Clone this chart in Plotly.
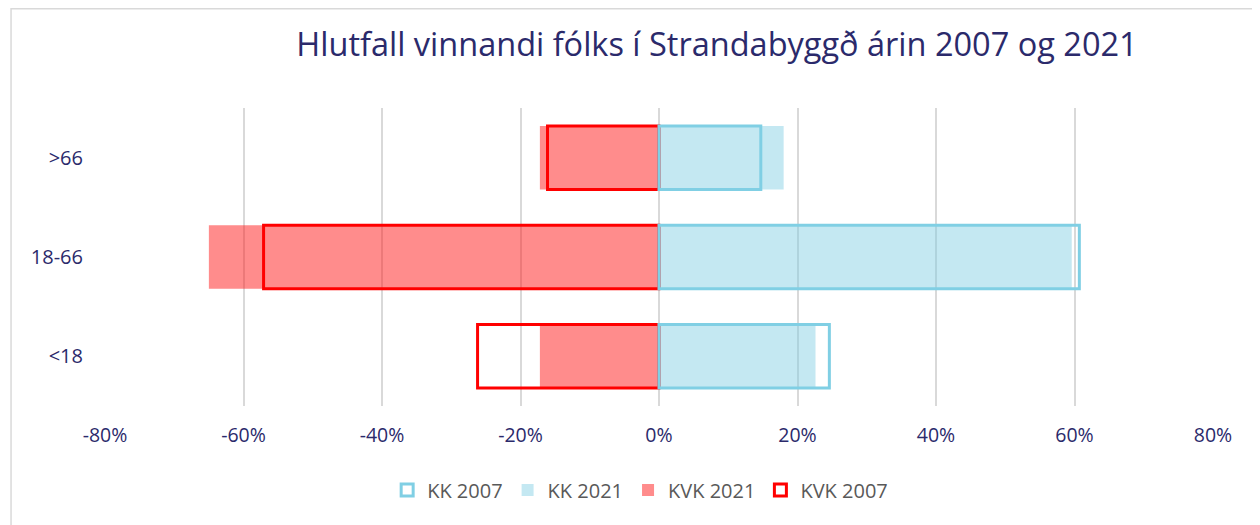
import plotly.graph_objects as go

categories = ["<18", "18-66", ">66"]
kk_2007 = [0.246, 0.607, 0.147]
kk_2021 = [0.226, 0.596, 0.180]
kvk_2021 = [-0.172, -0.650, -0.172]
kvk_2007 = [-0.262, -0.571, -0.161]

x_tickvals = [-0.8, -0.6, -0.4, -0.2, 0, 0.2, 0.4, 0.6, 0.8]
x_ticktext = ["-80%", "-60%", "-40%", "-20%", "0%", "20%", "40%", "60%", "80%"]

TITLE = "Hlutfall vinnandi fólks í Strandabyggð árin 2007 og 2021"
NAVY = "#2b2a6b"
FONT = "Open Sans"

fig = go.Figure()
fig.add_trace(go.Bar(
    y=categories, x=kvk_2021, orientation="h", name="KVK 2021",
    marker=dict(color="rgba(255,25,25,0.50)", line=dict(width=0)),
    width=0.64, legendrank=3,
))
fig.add_trace(go.Bar(
    y=categories, x=kk_2021, orientation="h", name="KK 2021",
    marker=dict(color="rgba(126,204,227,0.46)", line=dict(width=0)),
    width=0.64, legendrank=2,
))
fig.add_trace(go.Bar(
    y=categories, x=kvk_2007, orientation="h", name="KVK 2007",
    marker=dict(color="rgba(0,0,0,0)", line=dict(color="#ff0000", width=3)),
    width=0.64, legendrank=4,
))
fig.add_trace(go.Bar(
    y=categories, x=kk_2007, orientation="h", name="KK 2007",
    marker=dict(color="rgba(0,0,0,0)", line=dict(color="#80cfe4", width=3)),
    width=0.64, legendrank=1,
))

fig.update_layout(
    width=1260, height=525, autosize=False,
    barmode="overlay",
    paper_bgcolor="white", plot_bgcolor="white",
    margin=dict(l=97, r=55, t=100, b=127),
    font=dict(family=FONT, color=NAVY, size=19),
    title=dict(text=TITLE, x=0.5627, xref="container", xanchor="center",
               y=0.9295, yref="container", yanchor="middle",
               font=dict(family=FONT, size=32.5, color=NAVY)),
    xaxis=dict(range=[-0.8, 0.8], tickvals=x_tickvals, ticktext=x_ticktext,
               showgrid=True, gridcolor="#d9d9d9", gridwidth=1.5,
               zeroline=True, zerolinecolor="#d9d9d9", zerolinewidth=1.5,
               showline=False, ticks="outside", ticklen=12, tickcolor="rgba(0,0,0,0)",
               tickfont=dict(size=19.5, color=NAVY), fixedrange=True),
    yaxis=dict(range=[-0.5, 2.5], showgrid=False, zeroline=False, showline=False,
               ticks="outside", ticklen=17, tickcolor="rgba(0,0,0,0)",
               tickfont=dict(size=20, color=NAVY), fixedrange=True),
    legend=dict(orientation="h", x=0.483, xanchor="center", y=-0.282, yanchor="middle",
                font=dict(size=20, color="#595959"), traceorder="normal",
                itemwidth=30),
    shapes=[dict(type="rect", xref="paper", yref="paper",
                 x0=-0.0848, x1=1.06, y0=-0.45, y1=1.333,
                 line=dict(color="#d9d9d9", width=1.5), fillcolor="rgba(0,0,0,0)",
                 layer="below")],
)

fig.write_html("out.html")
